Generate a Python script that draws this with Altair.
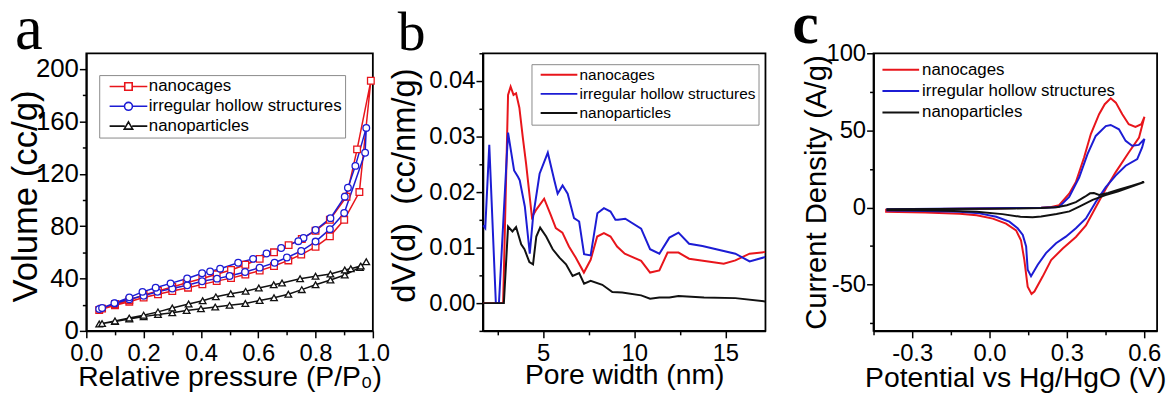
import altair as alt
import pandas as pd

SERIES = ["nanocages", "irregular hollow structures", "nanoparticles"]
COLORS = ["#e8151b", "#1c1cd4", "#111111"]

# ---------------- panel a : N2 isotherms ----------------
a_nc_ads_p = [0.045, 0.10, 0.15, 0.20, 0.25, 0.30, 0.355, 0.405, 0.455, 0.505, 0.555, 0.605, 0.655, 0.705, 0.75, 0.80, 0.85, 0.90, 0.953, 0.993]
a_nc_ads_v = [16, 19.5, 22.3, 25.5, 28, 30.5, 33, 35.5, 38, 40.3, 43, 46, 49.5, 53.8, 58.3, 64.2, 72.2, 84.8, 106, 191]
a_nc_des_p = [0.945, 0.908, 0.85, 0.80, 0.752, 0.706, 0.655, 0.605, 0.555, 0.505, 0.455, 0.405, 0.35, 0.30, 0.25, 0.20, 0.15, 0.10, 0.055]
a_nc_des_v = [138.6, 102.5, 84.8, 76.5, 70.2, 65.5, 60, 55, 50.5, 46.5, 43.2, 40, 36.8, 33.5, 30.5, 27.5, 23.5, 20.5, 17]

a_ih_ads_p = [0.045, 0.10, 0.15, 0.20, 0.248, 0.30, 0.352, 0.404, 0.456, 0.50, 0.554, 0.605, 0.657, 0.70, 0.75, 0.80, 0.85, 0.90, 0.973, 0.977]
a_ih_ads_v = [16.7, 21, 24.2, 26.8, 29.8, 32.3, 34.8, 37.9, 39.9, 41.9, 45, 48.3, 52, 56, 61, 68.2, 77.7, 90, 136, 155]
a_ih_des_p = [0.939, 0.913, 0.902, 0.852, 0.80, 0.758, 0.74, 0.68, 0.629, 0.582, 0.53, 0.467, 0.432, 0.404, 0.352, 0.294, 0.242, 0.196, 0.15, 0.098, 0.055]
a_ih_des_v = [126, 109.3, 102.5, 86.1, 77, 71, 68.5, 63.3, 59.1, 55, 52, 47.5, 45.4, 44, 40, 36.3, 33, 29.8, 25.6, 21.2, 17.5]

a_np_ads_p = [0.045, 0.10, 0.15, 0.20, 0.25, 0.30, 0.35, 0.40, 0.45, 0.50, 0.555, 0.605, 0.655, 0.705, 0.752, 0.80, 0.852, 0.902, 0.955, 0.977]
a_np_ads_v = [5.3, 7.1, 9.1, 10.9, 12.5, 13.8, 15.5, 16.9, 18.2, 19.5, 20.9, 23.2, 25.3, 28, 31.5, 35.2, 38.9, 42.7, 48.5, 52.8]
a_np_des_p = [0.958, 0.923, 0.902, 0.852, 0.80, 0.746, 0.683, 0.654, 0.602, 0.556, 0.504, 0.452, 0.406, 0.357, 0.30, 0.25, 0.20, 0.15, 0.10, 0.055]
a_np_des_v = [49.5, 47.5, 46.5, 43.4, 41.7, 39.8, 36.6, 35.2, 32.8, 30.2, 28.4, 26, 23, 20.5, 17.5, 14.5, 12, 9.8, 7.6, 5.6]

# ---------------- panel b : pore size distribution ----------------
b_nc_w = [1.72, 2.81, 3.08, 3.22, 3.38, 3.52, 3.7, 3.89, 4.07, 4.39, 4.6, 5.06, 5.42, 5.7, 6.06, 6.42, 6.79, 7.24, 7.61, 7.97, 8.34, 8.7, 9.06, 9.48, 10.38, 10.87, 11.38, 11.83, 12.43, 13.01, 14.91, 15.55, 16.33, 17.18]
b_nc_d = [0, 0, 0.0375, 0.0390, 0.0375, 0.0378, 0.0352, 0.0298, 0.0251, 0.0155, 0.0167, 0.0188, 0.0159, 0.0135, 0.0127, 0.0102, 0.0082, 0.0055, 0.0078, 0.0120, 0.0126, 0.0120, 0.0102, 0.0089, 0.0076, 0.0055, 0.0059, 0.0091, 0.0091, 0.0080, 0.0071, 0.0077, 0.0089, 0.0092]
b_ih_w = [1.72, 1.83, 2.05, 2.41, 2.58, 3.08, 3.41, 3.63, 3.72, 4.0, 4.23, 4.27, 4.45, 4.81, 5.26, 5.62, 5.8, 6.07, 6.35, 6.7, 6.98, 7.25, 7.61, 7.98, 8.34, 8.7, 8.97, 9.11, 9.51, 10.38, 10.87, 11.38, 11.93, 12.43, 13.01, 13.74, 15.55, 16.33, 17.18]
b_ih_d = [0.0140, 0.0135, 0.0285, 0.0, 0.0, 0.0307, 0.0239, 0.0227, 0.0221, 0.0174, 0.0102, 0.0089, 0.0155, 0.0233, 0.0271, 0.0221, 0.0197, 0.0212, 0.0197, 0.0153, 0.0147, 0.0088, 0.0086, 0.0162, 0.0171, 0.0165, 0.0150, 0.0150, 0.0152, 0.0134, 0.0097, 0.0089, 0.0118, 0.0127, 0.0107, 0.0103, 0.0089, 0.0075, 0.0083]
b_np_w = [1.72, 2.85, 3.08, 3.32, 3.52, 3.8, 3.98, 4.25, 4.45, 4.63, 4.84, 5.17, 5.53, 5.9, 6.26, 6.62, 6.98, 7.25, 7.61, 8.25, 8.8, 9.34, 10.38, 10.87, 11.38, 11.93, 12.43, 13.83, 15.55, 17.18]
b_np_d = [0, 0, 0.0138, 0.0129, 0.0137, 0.0106, 0.0097, 0.0074, 0.0070, 0.0120, 0.0136, 0.0120, 0.0097, 0.0082, 0.0070, 0.0049, 0.0054, 0.0035, 0.0040, 0.0033, 0.0020, 0.0019, 0.0014, 0.0008, 0.0010, 0.0010, 0.0013, 0.0010, 0.0009, 0.0003]

# ---------------- panel c : cyclic voltammograms ----------------
c_nc_e = [-0.405, -0.2, 0.0, 0.1, 0.2, 0.24, 0.27, 0.309, 0.335, 0.367, 0.393, 0.425, 0.447, 0.47, 0.49, 0.515, 0.54, 0.566, 0.589, 0.601,
          0.58, 0.54, 0.489, 0.451, 0.412, 0.374, 0.335, 0.284, 0.239, 0.206, 0.174, 0.163, 0.148, 0.135, 0.122, 0.103, 0.064, 0.013, -0.05, -0.116, -0.25, -0.405]
c_nc_j = [-1.5, -0.9, -0.6, -0.4, -0.2, 0.3, 1.5, 9, 16.5, 32.6, 47.6, 60.5, 67, 70.8, 68, 60.5, 54, 52.3, 54, 58.8,
          45.4, 35.7, 22.8, 12.1, 0.2, -11.6, -19.1, -26.6, -34.1, -44.8, -54.5, -56, -51.3, -34, -21.2, -14.8, -10.5, -7.2, -5, -4, -3.2, -2.7]
c_ih_e = [-0.4, -0.2, 0.0, 0.1, 0.2, 0.25, 0.27, 0.309, 0.348, 0.38, 0.412, 0.451, 0.47, 0.502, 0.528, 0.553, 0.579, 0.601,
          0.592, 0.573, 0.528, 0.489, 0.451, 0.412, 0.374, 0.335, 0.296, 0.258, 0.219, 0.187, 0.161, 0.148, 0.142, 0.129, 0.109, 0.077, 0.026, -0.039, -0.116, -0.25, -0.4]
c_ih_j = [-1.2, -0.8, -0.5, -0.3, -0.1, 0.2, 0.5, 6.8, 19.6, 34.6, 46.4, 52.8, 53.5, 50.7, 43.2, 40, 40.6, 44.4,
          38.9, 31.4, 27.1, 20.7, 13.2, 3.6, -7.1, -13.5, -18.9, -23.2, -29.6, -37.1, -44.6, -40.3, -25.3, -17.8, -13.5, -9.2, -6, -3.8, -2.8, -2.3, -2]
c_np_e = [-0.4, -0.2, 0.0, 0.1, 0.2, 0.26, 0.3, 0.335, 0.37, 0.39, 0.405, 0.425, 0.46, 0.5, 0.55, 0.6,
          0.5, 0.45, 0.4, 0.35, 0.31, 0.26, 0.2, 0.167, 0.12, 0.05, -0.05, -0.2, -0.4]
c_np_j = [-1.2, -1.0, -0.8, -0.6, -0.3, 0.2, 1.5, 3.5, 7, 9.2, 9.4, 8.2, 9.5, 11.5, 14, 16.5,
          10.5, 8, 5, 0.8, -2.5, -4.2, -5.8, -6.3, -6, -4.3, -2.8, -2, -1.6]

FONT = "Liberation Sans"
H = 280


def table(names, xs, ys, xname, yname):
    rows = []
    for name, xv, yv in zip(names, xs, ys):
        for i, (a, b) in enumerate(zip(xv, yv)):
            rows.append({"series": name, xname: a, yname: b, "idx": i})
    return pd.DataFrame(rows)


df_a = table(SERIES,
             [a_nc_ads_p + a_nc_des_p, a_ih_ads_p + a_ih_des_p, a_np_ads_p + a_np_des_p],
             [a_nc_ads_v + a_nc_des_v, a_ih_ads_v + a_ih_des_v, a_np_ads_v + a_np_des_v], "p", "v")
df_b = table(SERIES, [b_nc_w, b_ih_w, b_np_w], [b_nc_d, b_ih_d, b_np_d], "w", "d")
df_c = table(SERIES, [c_nc_e, c_ih_e, c_np_e], [c_nc_j, c_ih_j, c_np_j], "e", "j")


def cscale():
    return alt.Scale(domain=SERIES, range=COLORS)


def tick_axis(values, test, fmt, **kw):
    return alt.Axis(values=values,
                    tickSize={"condition": {"test": test, "value": 7}, "value": 4},
                    labelExpr=f"({test}) ? replace(format(datum.value, '{fmt}'), '\u2212', '-') : ''",
                    **kw)


def xaxis(values, test, fmt, title_y=55):
    return tick_axis(values, test, fmt, labelPadding=4, titleBaseline="alphabetic", titleY=title_y,
                     titleFontSize=28.5)


def yaxis(values, test, fmt, title_x, title_size, label_size=24, title_y=H / 2):
    return tick_axis(values, test, fmt, labelPadding=1, titleX=title_x, titleY=title_y,
                     titleBaseline="middle", titleAlign="center", titleAngle=270,
                     titleFontSize=title_size, labelFontSize=label_size)


def letter(ch, x, y, size, weight="normal"):
    return alt.Chart(pd.DataFrame({"t": [ch]})).mark_text(
        font="Liberation Serif", fontSize=size, fontWeight=weight,
        align="left", baseline="alphabetic", color="black"
    ).encode(text="t:N", x=alt.value(x), y=alt.value(y))


# ---------- panel a ----------
xa = alt.X("p:Q", scale=alt.Scale(domain=[0, 1], nice=False, zero=False),
           axis=xaxis([round(i * 0.1, 1) for i in range(11)], "round(datum.value*10) % 2 === 0", ".1f"),
           title="Relative pressure (P/P\u2080)")
ya = alt.Y("v:Q", scale=alt.Scale(domain=[0, 212], nice=False),
           axis=yaxis(list(range(0, 201, 20)), "round(datum.value) % 40 === 0", ".0f", -61, 35, 26, 144),
           title="Volume (cc/g)")

SQ = "M-3.8,0H-0.75M0.75,0H3.8M-0.75,-0.75H0.75V0.75H-0.75Z"
CI = "M-3.8,0H-0.8M0.8,0H3.8M-0.8,0A0.8,0.8 0 1,0 0.8,0A0.8,0.8 0 1,0 -0.8,0Z"
TR = "M-3.8,0H-0.75M0.75,0H3.8M0,-0.85L0.85,0.6H-0.85Z"

leg_a = dict(title=None, orient="none", legendX=13, legendY=22, strokeColor="#8a8a8a", fillColor="white",
             padding=3, labelFont=FONT, labelFontSize=17, labelColor="black", symbolSize=100,
             symbolStrokeWidth=1.6, symbolOffset=18, labelOffset=12, rowPadding=2, labelLimit=500)

lines_a = alt.Chart(df_a).mark_line(strokeWidth=1.5).encode(
    x=xa, y=ya, color=alt.Color("series:N", scale=cscale(), legend=None), detail="series:N", order="idx:Q")
pts_a = alt.Chart(df_a).mark_point(filled=False, fill="white", fillOpacity=1, opacity=1, strokeWidth=1.3, size=45).encode(
    x=xa, y=ya, color=alt.Color("series:N", scale=cscale(), legend=None),
    shape=alt.Shape("series:N", scale=alt.Scale(domain=SERIES, range=["square", "circle", "triangle-up"]), legend=None))
legend_layer_a = alt.Chart(df_a).transform_filter("false").mark_point(filled=False, opacity=1, strokeWidth=1.6).encode(
    x=xa, y=ya,
    color=alt.Color("series:N", scale=cscale(), legend=alt.Legend(**leg_a)),
    shape=alt.Shape("series:N", scale=alt.Scale(domain=SERIES, range=[SQ, CI, TR]), legend=alt.Legend(**leg_a)))

panel_a = alt.layer(lines_a, pts_a, legend_layer_a, letter("a", -72, -4.3, 63)).resolve_scale(
    color="independent", shape="independent").properties(width=289, height=H)

# ---------- panel b ----------
xb = alt.X("w:Q", scale=alt.Scale(domain=[1.7, 17.2], nice=False, zero=False),
           axis=xaxis([2.5, 5, 7.5, 10, 12.5, 15], "round(datum.value*2) % 10 === 0", ".0f", 53),
           title="Pore width (nm)")
yb = alt.Y("d:Q", scale=alt.Scale(domain=[-0.005, 0.045], nice=False, zero=False),
           axis=yaxis([round(-0.005 + i * 0.005, 3) for i in range(11)], "round(datum.value*1000) % 10 === 0", ".2f", -79, 33, 24, 133),
           title="dV(d)\u00a0\u00a0(cc/nm/g)")
leg_b = dict(title=None, orient="none", legendX=49, legendY=11, strokeColor="#8a8a8a", fillColor="white",
             padding=3, labelFont=FONT, labelFontSize=15.5, labelColor="black", symbolSize=100,
             symbolType="M-3.7,0H3.7", symbolStrokeWidth=2, symbolOffset=17, labelOffset=13, rowPadding=2.2, labelLimit=500)
lines_b = alt.Chart(df_b).mark_line(strokeWidth=2).encode(
    x=xb, y=yb, color=alt.Color("series:N", scale=cscale(), legend=alt.Legend(**leg_b)),
    detail="series:N", order="idx:Q")
panel_b = alt.layer(lines_b, letter("b", -86, -3, 56)).properties(width=285, height=H)

# ---------- panel c ----------
xc = alt.X("e:Q", scale=alt.Scale(domain=[-0.45, 0.65], nice=False, zero=False),
           axis=xaxis([-0.45, -0.3, -0.15, 0.0, 0.15, 0.3, 0.45, 0.6], "round(datum.value*100) % 30 === 0", ".1f", 56),
           title="Potential vs Hg/HgO (V)")
yc = alt.Y("j:Q", scale=alt.Scale(domain=[-80, 100], nice=False, zero=False),
           axis=yaxis(list(range(-75, 101, 25)), "round(datum.value) % 50 === 0", ".0f", -57, 29.5),
           title="Current Density (A/g)")
leg_c = dict(title=None, orient="none", legendX=-1, legendY=5,
             padding=3, labelFont=FONT, labelFontSize=17, labelColor="black", symbolSize=100,
             symbolType="M-3.7,0H3.7", symbolStrokeWidth=2, symbolOffset=17, labelOffset=13, rowPadding=3.6, labelLimit=500)
lines_c = alt.Chart(df_c).mark_line(strokeWidth=2).encode(
    x=xc, y=yc, color=alt.Color("series:N", scale=cscale(), legend=alt.Legend(**leg_c)),
    detail="series:N", order="idx:Q")
panel_c = alt.layer(lines_c, letter("c", -82, -10.3, 60, "bold")).properties(width=286, height=H)

ab = alt.hconcat(panel_a, panel_b, spacing=-3).resolve_scale(
    color="independent", shape="independent").resolve_legend(color="independent", shape="independent")
chart = alt.hconcat(ab, panel_c, spacing=21).resolve_scale(
    color="independent", shape="independent").resolve_legend(color="independent", shape="independent").properties(
    padding={"left": 0, "top": -16, "right": 0, "bottom": 0}
).configure_view(stroke="black", strokeWidth=1.8).configure_axis(
    grid=False, domainColor="black", domainWidth=1.8, tickColor="black", tickWidth=1.5,
    labelColor="black", titleColor="black", labelFont=FONT, titleFont=FONT,
    labelFontSize=24, titleFontSize=28, titleFontWeight="normal",
    labelOverlap=False, labelFlush=False
)

chart.save("out.html", embed_options={"renderer": "svg", "actions": False})
